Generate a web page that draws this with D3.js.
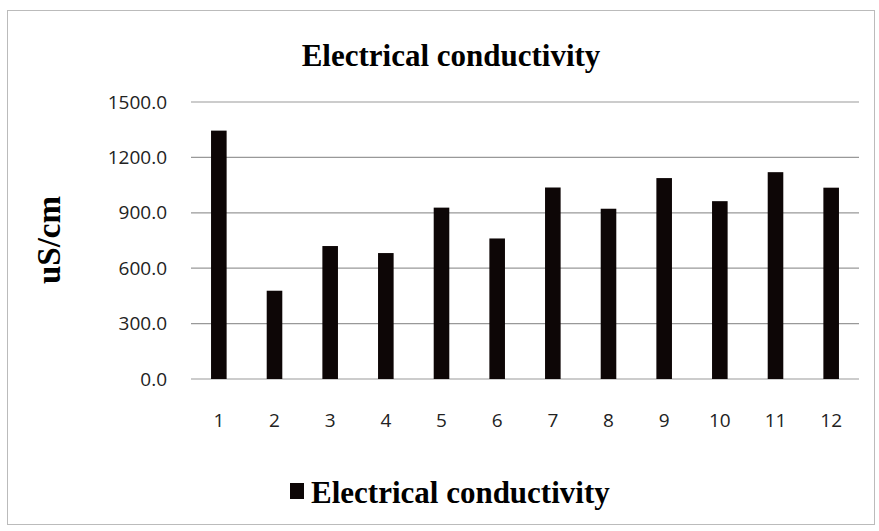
<!DOCTYPE html>
<html>
<head>
<script src="https://cdnjs.cloudflare.com/ajax/libs/d3/7.8.5/d3.min.js"></script>
<style>
  body { margin: 0; background: #fff; }
  .tick text { font-family: "Open Sans", sans-serif; font-size: 19px; fill: #222; }
</style>
</head>
<body>
<svg width="879" height="531"></svg>
<script>
// data
var sites = ['1','2','3','4','5','6','7','8','9','10','11','12'];
var conductivity = [1345, 478, 720, 682, 928, 761, 1037, 922, 1088, 963, 1120, 1036];
var yTicks = [0, 300, 600, 900, 1200, 1500];

var svg = d3.select('svg');

// outer frame
svg.append('rect')
  .attr('x', 7.5).attr('y', 10.5)
  .attr('width', 867).attr('height', 514)
  .attr('fill', 'none').attr('stroke', '#bbb');

var plotLeft = 191, plotRight = 859, plotTop = 102, plotBottom = 379;

var x = d3.scaleBand()
  .domain(sites)
  .range([plotLeft, plotRight])
  .paddingInner(0.72)
  .paddingOuter(0.36);

var y = d3.scaleLinear()
  .domain([0, 1500])
  .range([plotBottom, plotTop]);

// gridlines
svg.append('g')
  .selectAll('line')
  .data(yTicks)
  .enter().append('line')
  .attr('x1', plotLeft).attr('x2', plotRight)
  .attr('y1', d => y(d)).attr('y2', d => y(d))
  .attr('stroke', '#999').attr('stroke-width', 1.2);

// y axis labels
var yAxis = svg.append('g')
  .attr('transform', `translate(${plotLeft},0)`)
  .call(d3.axisLeft(y).tickValues(yTicks).tickFormat(d3.format('.1f')).tickSize(0).tickPadding(24));
yAxis.select('.domain').remove();

// x axis labels
var xAxis = svg.append('g')
  .attr('transform', `translate(0,${plotBottom})`)
  .call(d3.axisBottom(x).tickSize(0).tickPadding(35));
xAxis.select('.domain').remove();

// bars
svg.append('g')
  .selectAll('rect')
  .data(conductivity)
  .enter().append('rect')
  .attr('x', (d, i) => x(sites[i]))
  .attr('y', d => y(d))
  .attr('width', x.bandwidth())
  .attr('height', d => plotBottom - y(d))
  .attr('fill', '#0d0606');

// title
svg.append('text')
  .attr('x', 451).attr('y', 66)
  .attr('text-anchor', 'middle')
  .style('font-family', '"Liberation Serif", serif')
  .style('font-weight', 'bold')
  .style('font-size', '31px')
  .text('Electrical conductivity');

// y axis title
svg.append('text')
  .attr('transform', 'translate(60,240) rotate(-90)')
  .attr('text-anchor', 'middle')
  .style('font-family', '"Liberation Serif", serif')
  .style('font-weight', 'bold')
  .style('font-size', '33px')
  .text('uS/cm');

// legend
svg.append('rect')
  .attr('x', 290).attr('y', 483)
  .attr('width', 14).attr('height', 16)
  .attr('fill', '#0d0606');
svg.append('text')
  .attr('x', 311).attr('y', 503)
  .style('font-family', '"Liberation Serif", serif')
  .style('font-weight', 'bold')
  .style('font-size', '31px')
  .text('Electrical conductivity');
</script>
</body>
</html>
